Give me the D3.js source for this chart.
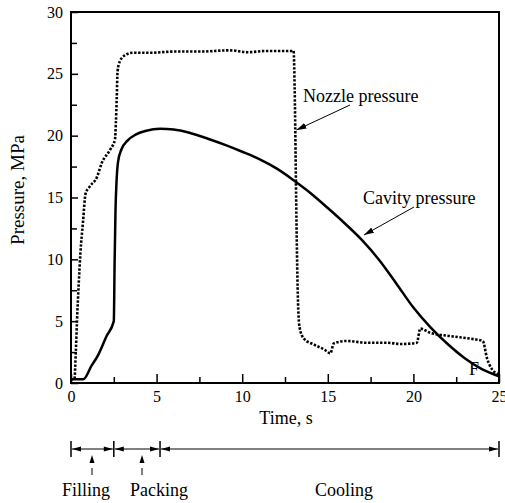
<!DOCTYPE html>
<html>
<head>
<meta charset="utf-8">
<script src="https://cdn.jsdelivr.net/npm/d3@7"></script>
<style>
  body { margin: 0; background: #fff; }
  svg text { font-family: "Liberation Serif", "Times New Roman", serif; fill: #000; }
</style>
</head>
<body>
<div class="chart"></div>
<script>
// Nozzle pressure (dotted) - time in s, pressure in MPa
const nozzleTime = [0, 0.2, 0.28, 0.35, 0.45, 0.55, 0.7, 0.85, 1.1, 1.5, 1.8, 2.3, 2.57, 2.62, 2.67, 2.72, 2.85, 3.15, 3.6, 4.6, 6, 7.5, 9.3, 10.3, 11.4, 13.0, 13.08, 13.15, 13.25, 13.35, 13.6, 14.2, 14.8, 15.15, 15.35, 16.1, 17.3, 18.5, 19.3, 20.2, 20.4, 21.0, 22.1, 23.5, 24.05, 24.3, 24.6, 25];
const nozzlePressure = [0.3, 0.3, 2.5, 5, 8, 10.5, 13, 15.3, 15.9, 16.6, 17.8, 18.9, 19.7, 21, 23, 25.2, 26.0, 26.5, 26.7, 26.7, 26.8, 26.8, 26.9, 26.75, 26.85, 26.85, 22.5, 15, 7, 4.5, 3.6, 3.1, 2.7, 2.4, 3.2, 3.4, 3.25, 3.25, 3.15, 3.25, 4.4, 4.05, 3.8, 3.55, 3.4, 2.0, 1.1, 0.7];

// Cavity pressure (solid)
const cavityTime = [0, 0.72, 1.2, 1.6, 2.08, 2.5, 2.55, 2.6, 2.65, 2.75, 2.95, 3.3, 3.8, 4.4, 5.2, 6, 7, 8, 9, 10, 11, 12, 13, 14, 15, 16, 17, 18, 19, 20, 21, 22, 23, 24, 25];
const cavityPressure = [0.3, 0.3, 1.4, 2.3, 3.8, 5.0, 10, 14, 16, 17.9, 18.9, 19.6, 20.1, 20.4, 20.55, 20.5, 20.2, 19.75, 19.25, 18.7, 18.1, 17.35, 16.4, 15.35, 14.15, 12.9, 11.55, 9.95, 8.05, 6.1, 4.5, 3.15, 2.0, 1.12, 0.55];

// Axis ticks
const xMajorTicks = [0, 5, 10, 15, 20, 25];
const xMinorTicks = [2.5, 7.5, 12.5, 17.5, 22.5];
const yMajorTicks = [0, 5, 10, 15, 20, 25, 30];
const yMinorTicks = [2.5, 7.5, 12.5, 17.5, 22.5, 27.5];

// Process phases below the plot
const phaseBounds = [0, 2.5, 5.2, 25];
const phaseNames = ["Filling", "Packing", "Cooling"];

const width = 505, height = 503;
const plotLeft = 71, plotRight = 499, plotTop = 12, plotBottom = 383;

const svg = d3.select(".chart").append("svg")
    .attr("width", width)
    .attr("height", height);

const defs = svg.append("defs");
defs.append("marker")
    .attr("id", "arrow")
    .attr("viewBox", "0 0 10 6")
    .attr("refX", 10).attr("refY", 3)
    .attr("markerWidth", 10).attr("markerHeight", 6)
    .attr("markerUnits", "userSpaceOnUse")
    .attr("orient", "auto")
    .append("path")
    .attr("d", "M0,0 L10,3 L0,6 Z")
    .attr("fill", "#000");

const x = d3.scaleLinear().domain([0, 25]).range([plotLeft, plotRight]);
const y = d3.scaleLinear().domain([0, 30]).range([plotBottom, plotTop]);

// Axes (ticks pointing inward)
function styleAxis(g) {
    g.select(".domain").remove();
    g.selectAll(".tick line").attr("stroke", "#000").attr("stroke-width", 1.5);
    g.selectAll(".tick text").style("font-size", "16px");
}

svg.append("g")
    .attr("transform", `translate(0,${plotBottom})`)
    .call(d3.axisBottom(x).tickValues(xMajorTicks).tickSize(-9).tickPadding(8).tickFormat(d3.format("d")))
    .call(styleAxis);
svg.append("g")
    .attr("transform", `translate(0,${plotBottom})`)
    .call(d3.axisBottom(x).tickValues(xMinorTicks).tickSize(-6).tickFormat(""))
    .call(styleAxis);
svg.append("g")
    .attr("transform", `translate(${plotLeft},0)`)
    .call(d3.axisLeft(y).tickValues(yMajorTicks).tickSize(-7).tickPadding(8).tickFormat(d3.format("d")))
    .call(styleAxis);
svg.append("g")
    .attr("transform", `translate(${plotLeft},0)`)
    .call(d3.axisLeft(y).tickValues(yMinorTicks).tickSize(-6).tickFormat(""))
    .call(styleAxis);

// Frame
svg.append("rect")
    .attr("x", plotLeft).attr("y", plotTop)
    .attr("width", plotRight - plotLeft).attr("height", plotBottom - plotTop)
    .attr("fill", "none")
    .attr("stroke", "#000")
    .attr("stroke-width", 2);

// Axis titles
svg.append("text")
    .attr("x", (plotLeft + plotRight) / 2 + 1)
    .attr("y", 424)
    .attr("text-anchor", "middle")
    .style("font-size", "18px")
    .text("Time, s");

svg.append("text")
    .attr("transform", "translate(24,190) rotate(-90)")
    .attr("text-anchor", "middle")
    .style("font-size", "19px")
    .text("Pressure, MPa");

// Curves
const line = d3.line()
    .x(d => x(d[0]))
    .y(d => y(d[1]))
    .curve(d3.curveMonotoneX);

svg.append("path")
    .datum(cavityTime.map((t, i) => [t, cavityPressure[i]]))
    .attr("d", line)
    .attr("fill", "none")
    .attr("stroke", "#000")
    .attr("stroke-width", 2.5);

svg.append("path")
    .datum(nozzleTime.map((t, i) => [t, nozzlePressure[i]]))
    .attr("d", line)
    .attr("fill", "none")
    .attr("stroke", "#000")
    .attr("stroke-width", 2.6)
    .attr("stroke-dasharray", "2.4,1.6");

// Annotations
svg.append("text")
    .attr("x", 303).attr("y", 102)
    .style("font-size", "18px")
    .text("Nozzle pressure");
svg.append("line")
    .attr("x1", 350).attr("y1", 105)
    .attr("x2", x(13.05) + 2).attr("y2", 130)
    .attr("stroke", "#000").attr("stroke-width", 1)
    .attr("marker-end", "url(#arrow)");

svg.append("text")
    .attr("x", 363).attr("y", 204)
    .style("font-size", "18px")
    .text("Cavity pressure");
svg.append("line")
    .attr("x1", 414).attr("y1", 207)
    .attr("x2", 364).attr("y2", 235)
    .attr("stroke", "#000").attr("stroke-width", 1)
    .attr("marker-end", "url(#arrow)");

svg.append("text")
    .attr("x", 469).attr("y", 375)
    .style("font-size", "18px")
    .text("F");

// Phase bar below the time axis
const phaseY = 449;
const phases = phaseNames.map((name, i) => ({ name, start: phaseBounds[i], end: phaseBounds[i + 1] }));
const phaseG = svg.append("g");

phaseBounds.forEach(b => {
    phaseG.append("line")
        .attr("x1", x(b)).attr("x2", x(b))
        .attr("y1", phaseY - 8).attr("y2", phaseY + 8)
        .attr("stroke", "#000").attr("stroke-width", 1.5);
});

phases.forEach((p, i) => {
    const x0 = x(p.start) + 1, x1 = x(p.end) - 1;
    phaseG.append("line")
        .attr("x1", x0).attr("x2", x1)
        .attr("y1", phaseY).attr("y2", phaseY)
        .attr("stroke", "#000").attr("stroke-width", 1);
    phaseG.append("path")
        .attr("d", `M${x0},${phaseY} L${x0 + 9},${phaseY - 2.5} L${x0 + 9},${phaseY + 2.5} Z`)
        .attr("fill", "#000");
    phaseG.append("path")
        .attr("d", `M${x1},${phaseY} L${x1 - 9},${phaseY - 2.5} L${x1 - 9},${phaseY + 2.5} Z`)
        .attr("fill", "#000");

    // little pointer under the short phases
    if (i < 2) {
        const px = i === 0 ? 92 : 142;
        phaseG.append("path")
            .attr("d", `M${px},${455} L${px - 2.5},${463} L${px + 2.5},${463} Z`)
            .attr("fill", "#000");
        phaseG.append("line")
            .attr("x1", px).attr("x2", px)
            .attr("y1", 468).attr("y2", 475)
            .attr("stroke", "#000").attr("stroke-width", 1);
    }
});

const labelX = [86, 159, 344];
phaseG.selectAll("text.phase")
    .data(phases)
    .enter()
    .append("text")
    .attr("class", "phase")
    .attr("x", (d, i) => labelX[i])
    .attr("y", 496)
    .attr("text-anchor", "middle")
    .style("font-size", "18px")
    .text(d => d.name);
</script>
</body>
</html>
